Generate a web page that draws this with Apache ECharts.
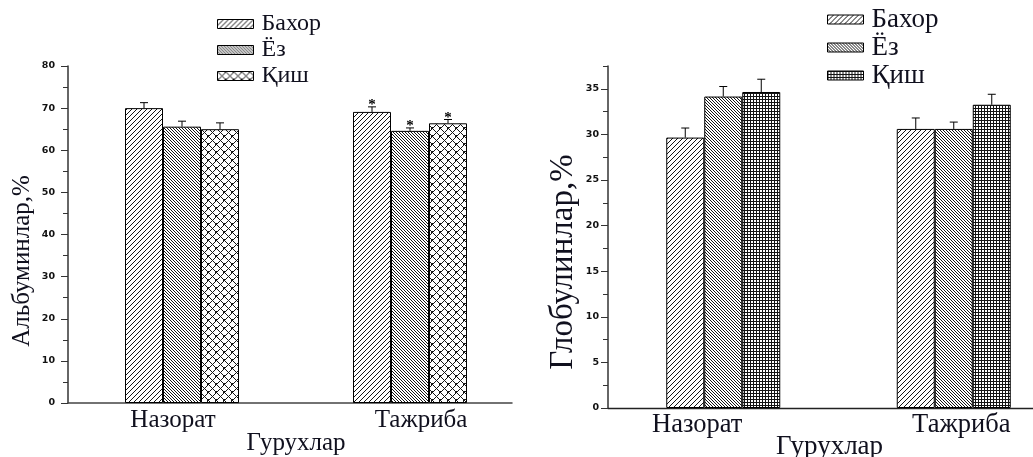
<!DOCTYPE html>
<html>
<head>
<meta charset="utf-8">
<script src="https://cdn.jsdelivr.net/npm/echarts@6/dist/echarts.min.js"></script>
<style>
  html, body { margin: 0; padding: 0; background: #fff; }
  #chart { width: 1033px; height: 457px; }
</style>
</head>
<body>
<div id="chart"></div>
<script>
// Groups and seasons
const groups = ['Назорат', 'Тажриба'];
const seasons = ['Бахор', 'Ёз', 'Қиш'];

// Albumins, % (mean and upper error)
const albBahor = [70.0, 69.1];
const albYoz = [65.6, 64.6];
const albQish = [65.0, 66.4];
const albBahorErr = [1.3, 1.2];
const albYozErr = [1.3, 0.7];
const albQishErr = [1.5, 0.9];
// significance marks (1 = asterisk)
const albBahorStar = [0, 1];
const albYozStar = [0, 1];
const albQishStar = [0, 1];

// Globulins, % (mean and upper error)
const globBahor = [29.65, 30.6];
const globYoz = [34.15, 30.6];
const globQish = [34.65, 33.25];
const globBahorErr = [1.05, 1.2];
const globYozErr = [1.1, 0.75];
const globQishErr = [1.4, 1.15];

// Axis ticks
const albTicks = [0, 10, 20, 30, 40, 50, 60, 70, 80];
const globTicks = [0, 5, 10, 15, 20, 25, 30, 35];

const BAR_W = 38;
const SERIF = '"Liberation Serif", "DejaVu Serif", serif';
const TEXT_COLOR = '#10101e';

// Hatch fills built pixel by pixel on a small tile
function tile(size, isInk) {
  const c = document.createElement('canvas');
  c.width = size; c.height = size;
  const ctx = c.getContext('2d');
  const img = ctx.createImageData(size, size);
  for (let y = 0; y < size; y++) {
    for (let x = 0; x < size; x++) {
      const i = (y * size + x) * 4;
      const v = isInk(x, y) ? 20 : 255;
      img.data[i] = v; img.data[i + 1] = v; img.data[i + 2] = v; img.data[i + 3] = 255;
    }
  }
  ctx.putImageData(img, 0, 0);
  return { image: c, repeat: 'repeat' };
}
const hatchFwd = tile(5, (x, y) => (x + y) % 5 === 0);
const hatchBack = tile(3, (x, y) => ((x - y) % 3 + 3) % 3 === 0);
const hatchCross = tile(8, (x, y) =>
  (x + y) % 8 === 0 || ((x - y) % 8 + 8) % 8 === 0 ||
  ((x === 0 || x === 7) && (y === 0 || y === 7)));
const hatchDots = tile(3, (x, y) => x === 0 || y === 0);

const leftFills = [hatchFwd, hatchBack, hatchCross];
const rightFills = [hatchFwd, hatchBack, hatchDots];

function barSeries(name, data, fill, xi, yi) {
  return {
    type: 'bar', name, data, xAxisIndex: xi, yAxisIndex: yi,
    barWidth: BAR_W, barGap: '0%',
    itemStyle: { color: fill, borderColor: '#000', borderWidth: 1 },
    emphasis: { disabled: true }, animation: false
  };
}

// rows: [groupIndex, mean, err, seasonIndex, star]
function errRows(means, errs, stars) {
  const rows = [];
  means.forEach((m, s) => {
    m.forEach((v, g) => rows.push([g, v, errs[s][g], s, stars ? stars[s][g] : 0]));
  });
  return rows;
}

function errSeries(rows, xi, yi) {
  return {
    type: 'custom', xAxisIndex: xi, yAxisIndex: yi, data: rows, z: 5,
    silent: true, animation: false, clip: false,
    renderItem(params, api) {
      const g = api.value(0), v = api.value(1), e = api.value(2), s = api.value(3);
      const x = api.coord([g, 0])[0] + (s - 1) * BAR_W;
      const yTop = api.coord([g, v])[1];
      const yErr = api.coord([g, v + e])[1];
      const style = { stroke: '#000', lineWidth: 1 };
      const children = [
        { type: 'line', shape: { x1: x, y1: yTop, x2: x, y2: yErr }, style },
        { type: 'line', shape: { x1: x - 4, y1: yErr, x2: x + 4, y2: yErr }, style }
      ];
      if (api.value(4)) {
        children.push({
          type: 'text',
          style: { text: '*', x: x, y: yErr + 6, align: 'center', verticalAlign: 'bottom',
                   font: 'bold 15px ' + SERIF, fill: '#000' }
        });
      }
      return { type: 'group', children };
    }
  };
}

function legend(fills, left, top, size, gap) {
  return {
    orient: 'vertical', left, top, padding: 0, itemWidth: 36, itemHeight: 9, itemGap: gap,
    icon: 'rect', selectedMode: false,
    textStyle: { fontFamily: SERIF, fontSize: size, color: TEXT_COLOR, padding: [0, 0, 0, 3] },
    data: seasons.map((n, i) => ({
      name: n, icon: 'rect',
      itemStyle: { color: fills[i], borderColor: '#000', borderWidth: 1 }
    }))
  };
}

const tickLabelStyle = {
  fontFamily: '"DejaVu Sans", sans-serif', fontWeight: 'bold', fontSize: 9.5, color: '#111'
};

function catLabels(shiftL, shiftR, size, margin) {
  return {
    margin, fontFamily: SERIF, fontSize: size, color: TEXT_COLOR,
    formatter: (v, i) => '{c' + i + '|' + v + '}',
    rich: {
      c0: { fontFamily: SERIF, fontSize: size, color: TEXT_COLOR, padding: [0, shiftL, 0, 0] },
      c1: { fontFamily: SERIF, fontSize: size, color: TEXT_COLOR, padding: [0, 0, 0, shiftR] }
    }
  };
}

// plain base line along the bottom of a plotting area
function baseLineAxis(gridIndex, color, width) {
  return {
    gridIndex, type: 'value', min: 0, max: 1,
    axisLine: { show: true, onZero: false, lineStyle: { color, width } },
    axisTick: { show: false }, axisLabel: { show: false }, splitLine: { show: false }
  };
}

const gridBase = { containLabel: false, outerBoundsMode: 'none' };

const option = {
  backgroundColor: '#fff',
  animation: false,
  legend: [
    legend(leftFills, 217, 12, 24, 2),
    legend(rightFills, 827, 6, 27, 1)
  ],
  grid: [
    Object.assign({ left: 68, right: 509, top: 66, bottom: 54 }, gridBase),
    Object.assign({ left: 68, right: 521, top: 66, bottom: 54 }, gridBase),
    Object.assign({ left: 608, right: -36, top: 66, bottom: 49 }, gridBase),
    Object.assign({ left: 608, right: 0, top: 66, bottom: 49 }, gridBase)
  ],
  xAxis: [
    {
      gridIndex: 0, type: 'category', data: groups,
      axisLine: { show: false }, axisTick: { show: false },
      axisLabel: catLabels(18, 22, 25, 5),
      name: 'Гурухлар', nameLocation: 'middle', nameGap: 28, nameMoveOverlap: false,
      nameTextStyle: { fontFamily: SERIF, fontSize: 25, color: TEXT_COLOR, verticalAlign: 'top' }
    },
    baseLineAxis(1, '#444', 1.5),
    {
      gridIndex: 2, type: 'category', data: groups,
      axisLine: { show: false }, axisTick: { show: false },
      axisLabel: catLabels(52, 15, 26.5, 4),
      name: 'Гурухлар', nameLocation: 'middle', nameGap: 25, nameMoveOverlap: false,
      nameTextStyle: { fontFamily: SERIF, fontSize: 27, color: TEXT_COLOR, verticalAlign: 'top',
                       padding: [0, 18, 0, 0] }
    },
    baseLineAxis(3, '#222', 1.3)
  ],
  yAxis: [
    {
      gridIndex: 0, type: 'value', min: albTicks[0], max: albTicks[albTicks.length - 1], interval: 10,
      splitLine: { show: false },
      axisLine: { show: true, lineStyle: { color: '#333', width: 1.5 } },
      axisTick: { show: true, inside: false, length: 7, lineStyle: { color: '#333' } },
      axisLabel: Object.assign({ margin: 13 }, tickLabelStyle),
      name: 'Альбуминлар,%', nameLocation: 'middle', nameRotate: 90, nameGap: 33,
      nameTextStyle: { fontFamily: SERIF, fontSize: 25, color: TEXT_COLOR, padding: [0, 53, 0, 0] }
    },
    {
      gridIndex: 1, type: 'value', min: 0, max: 80, interval: 5,
      splitLine: { show: false }, axisLine: { show: false }, axisLabel: { show: false },
      axisTick: { show: true, length: 5, lineStyle: { color: '#333' } }
    },
    {
      gridIndex: 2, type: 'value', position: 'left', min: 0, max: 37.5, interval: 5,
      splitLine: { show: false },
      axisLine: { show: true, lineStyle: { color: '#333', width: 1.5 } },
      axisTick: { show: true, length: 7, customValues: globTicks, lineStyle: { color: '#333' } },
      axisLabel: Object.assign({ margin: 9, customValues: globTicks }, tickLabelStyle),
      name: 'Глобулинлар,%', nameLocation: 'middle', nameRotate: 90, nameGap: 28,
      nameTextStyle: { fontFamily: SERIF, fontSize: 33, color: TEXT_COLOR, padding: [0, 50, 0, 0] }
    },
    {
      gridIndex: 3, type: 'value', min: 0, max: 37.5, interval: 2.5,
      splitLine: { show: false }, axisLine: { show: false }, axisLabel: { show: false },
      axisTick: { show: true, length: 5, lineStyle: { color: '#333' } }
    }
  ],
  series: [
    barSeries(seasons[0], albBahor, leftFills[0], 0, 0),
    barSeries(seasons[1], albYoz, leftFills[1], 0, 0),
    barSeries(seasons[2], albQish, leftFills[2], 0, 0),
    errSeries(errRows([albBahor, albYoz, albQish], [albBahorErr, albYozErr, albQishErr],
                      [albBahorStar, albYozStar, albQishStar]), 0, 0),
    barSeries(seasons[0], globBahor, rightFills[0], 2, 2),
    barSeries(seasons[1], globYoz, rightFills[1], 2, 2),
    barSeries(seasons[2], globQish, rightFills[2], 2, 2),
    errSeries(errRows([globBahor, globYoz, globQish], [globBahorErr, globYozErr, globQishErr], null), 2, 2)
  ]
};

const chart = echarts.init(document.getElementById('chart'), null, { renderer: 'canvas' });
chart.setOption(option);
</script>
</body>
</html>
